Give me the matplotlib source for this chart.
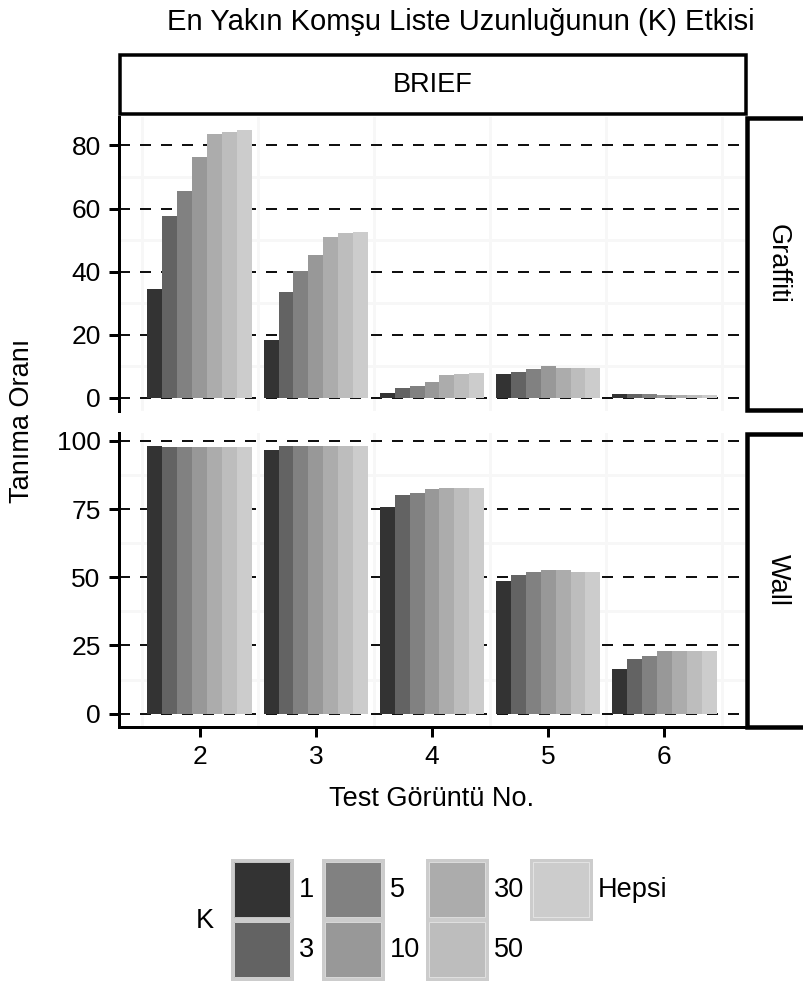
import matplotlib
matplotlib.use('Agg')
import matplotlib.pyplot as plt
from matplotlib.patches import Rectangle
from matplotlib.ticker import FixedLocator

plt.rcParams['font.family'] = ['Liberation Sans', 'DejaVu Sans']

# Veriler: test goruntusu no, K degerleri, tanima oranlari (satir = K)
test_no = [2, 3, 4, 5, 6]
k_labels = ['1', '3', '5', '10', '30', '50', 'Hepsi']
k_colors = ['#333333', '#636363', '#818181', '#989898', '#acacac', '#bdbdbd', '#cccccc']

graffiti = [
    [34.6, 18.4, 1.6, 7.4, 1.1],
    [57.5, 33.6, 2.9, 8.1, 1.0],
    [65.7, 40.3, 3.8, 9.0, 1.0],
    [76.2, 45.4, 5.1, 9.9, 0.9],
    [83.5, 51.1, 7.3, 9.3, 0.9],
    [84.4, 52.1, 7.6, 9.3, 0.9],
    [84.8, 52.4, 7.9, 9.3, 0.9],
]
wall = [
    [98.0, 96.6, 75.6, 48.8, 16.2],
    [97.7, 98.0, 80.0, 51.0, 20.2],
    [97.7, 98.0, 80.8, 51.8, 21.3],
    [97.7, 98.0, 82.3, 52.5, 22.8],
    [97.7, 98.0, 82.6, 52.5, 22.8],
    [97.7, 98.0, 82.6, 52.1, 22.8],
    [97.7, 98.0, 82.6, 52.1, 22.8],
]
graffiti_ticks = [0, 20, 40, 60, 80]
wall_ticks = [0, 25, 50, 75, 100]

W, H = 804, 982
FS = 19.5
fig = plt.figure(figsize=(W / 100, H / 100), dpi=100)
px = 0.72  # 1 px in pt

def box(l, t, r, b):
    return [l / W, 1 - b / H, (r - l) / W, (b - t) / H]

ax_g = fig.add_axes(box(119, 117, 745, 411))
ax_w = fig.add_axes(box(119, 433, 745, 727))

bw = 0.9 / len(k_labels)
for ax, vals, ticks in [(ax_g, graffiti, graffiti_ticks), (ax_w, wall, wall_ticks)]:
    for j, (lab, col) in enumerate(zip(k_labels, k_colors)):
        xs = [t + (j - 3) * bw for t in test_no]
        ax.bar(xs, vals[j], width=bw, color=col, linewidth=0, zorder=3, label=lab)
    m = max(max(r) for r in vals)
    ax.set_ylim(-0.05 * m, 1.05 * m)
    ax.set_xlim(1.305, 6.695)
    ax.yaxis.set_major_locator(FixedLocator(ticks))
    step = ticks[1] - ticks[0]
    ax.yaxis.set_minor_locator(FixedLocator([t + step / 2 for t in ticks[:-1]]))
    ax.xaxis.set_major_locator(FixedLocator(test_no))
    ax.xaxis.set_minor_locator(FixedLocator([t - 0.5 for t in test_no] + [6.5]))
    ax.set_axisbelow(True)
    ax.grid(which='minor', color='#f7f7f7', linewidth=3 * px)
    ax.yaxis.grid(which='major', color='#111111', linewidth=2 * px, linestyle=(0, (5.5, 5)))
    for s in ['top', 'right', 'bottom']:
        ax.spines[s].set_visible(False)
    ax.spines['left'].set_linewidth(3 * px)
    ax.tick_params(axis='both', which='major', length=10 * px, width=3 * px,
                   direction='out', labelsize=19, pad=6, colors='black')
    ax.tick_params(axis='both', which='minor', length=0)
    ax.set_facecolor('white')

ax_g.tick_params(axis='x', which='both', bottom=False, labelbottom=False)
ax_w.spines['bottom'].set_visible(True)
ax_w.spines['bottom'].set_linewidth(3 * px)
ax_w.set_xlabel('Test Görüntü No.', fontsize=FS, labelpad=12)

# ust uste: basliklar, seritler, lejant
ov = fig.add_axes([0, 0, 1, 1], facecolor='none')
ov.set_xlim(0, W)
ov.set_ylim(H, 0)
ov.axis('off')

ov.text(461, 22, 'En Yakın Komşu Liste Uzunluğunun (K) Etkisi', fontsize=21,
        ha='center', va='center')
ov.text(22, 421, 'Tanıma Oranı', fontsize=FS, rotation=90, ha='center', va='center')

ov.add_patch(Rectangle((120, 55), 626, 59, facecolor='white', edgecolor='black',
                       linewidth=3.5 * px, clip_on=False))
ov.text(433, 85, 'BRIEF', fontsize=FS, ha='center', va='center')
for (t, b, lab) in [(118, 410, 'Graffiti'), (434, 727, 'Wall')]:
    ov.add_patch(Rectangle((747, t), 70, b - t, facecolor='white', edgecolor='black',
                           linewidth=4.5 * px, clip_on=False))
    ov.text(778, (t + b) / 2, lab, fontsize=FS, rotation=-90, ha='center', va='center')

key_x = [232, 323, 427, 531]
key_y = [860, 920]
ov.text(205, 921, 'K', fontsize=FS, ha='center', va='center')
for j, (lab, col) in enumerate(zip(k_labels, k_colors)):
    c, r = j // 2, j % 2
    x0, y0 = key_x[c], key_y[r]
    ov.add_patch(Rectangle((x0, y0), 60, 59, facecolor=col, edgecolor='#cccccc',
                           linewidth=3 * px))
    ov.add_patch(Rectangle((x0 + 2, y0 + 2), 56, 55, facecolor='none', edgecolor='#e8e8e8',
                           linewidth=0.8 * px))
    ov.text(x0 + 67, y0 + 30, lab, fontsize=FS, ha='left', va='center')

fig.savefig('out.png', dpi=100)
